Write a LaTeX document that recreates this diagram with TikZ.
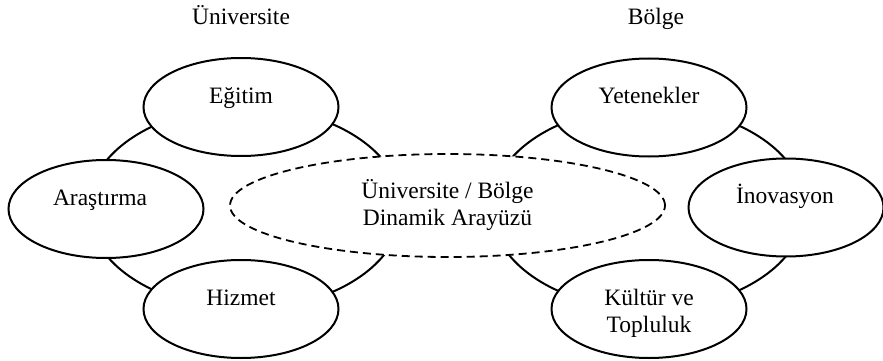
\documentclass[tikz,border=0pt]{standalone}
\usepackage{fontspec}
\setmainfont{Liberation Serif}
\usetikzlibrary{shapes.geometric}
\begin{document}
\begin{tikzpicture}[x=1pt,y=-1pt,
  bigell/.style={draw,ellipse,line width=2pt,minimum width=314pt,minimum height=202pt,inner sep=0pt},
  smallell/.style={draw,ellipse,fill=white,line width=2pt,minimum width=195pt,minimum height=98pt,inner sep=0pt},
  iface/.style={draw,ellipse,fill=white,dash pattern=on 8pt off 5pt,line width=1.8pt,minimum width=435pt,minimum height=103pt,inner sep=0pt},
  lbl/.style={font=\fontsize{23.5pt}{26.5pt}\selectfont,anchor=base,align=center,inner sep=0pt}]
\useasboundingbox (0,0) rectangle (883,361);
% large ellipses
\node[bigell] (uni) at (245,208) {};
\node[bigell] (reg) at (648,208) {};
% interface
\node[iface] (dyn) at (447.5,205.5) {};
% small ellipses
\node[smallell] (egitim) at (241,107) {};
\node[smallell] (arastirma) at (106,209) {};
\node[smallell] (hizmet) at (241,309) {};
\node[smallell] (yetenek) at (649,107.5) {};
\node[smallell] (inov) at (786,207.5) {};
\node[smallell] (kultur) at (649,309) {};
% labels
\node[lbl] (tuni) at (241,25) {Üniversite};
\node[lbl] (treg) at (656,25) {Bölge};
\node[lbl] (legitim) at (241,103.5) {Eğitim};
\node[lbl] (larastirma) at (100,205) {Araştırma};
\node[lbl] (lhizmet) at (241,305) {Hizmet};
\node[lbl] (lyetenek) at (649,103) {Yetenekler};
\node[lbl] (linov) at (785,203) {İnovasyon};
\node[lbl] (lkultur) at (649,332) {Kültür ve\\Topluluk};
\node[lbl] (ldyn) at (447.5,225) {Üniversite / Bölge\\Dinamik Arayüzü};
\end{tikzpicture}
\end{document}
